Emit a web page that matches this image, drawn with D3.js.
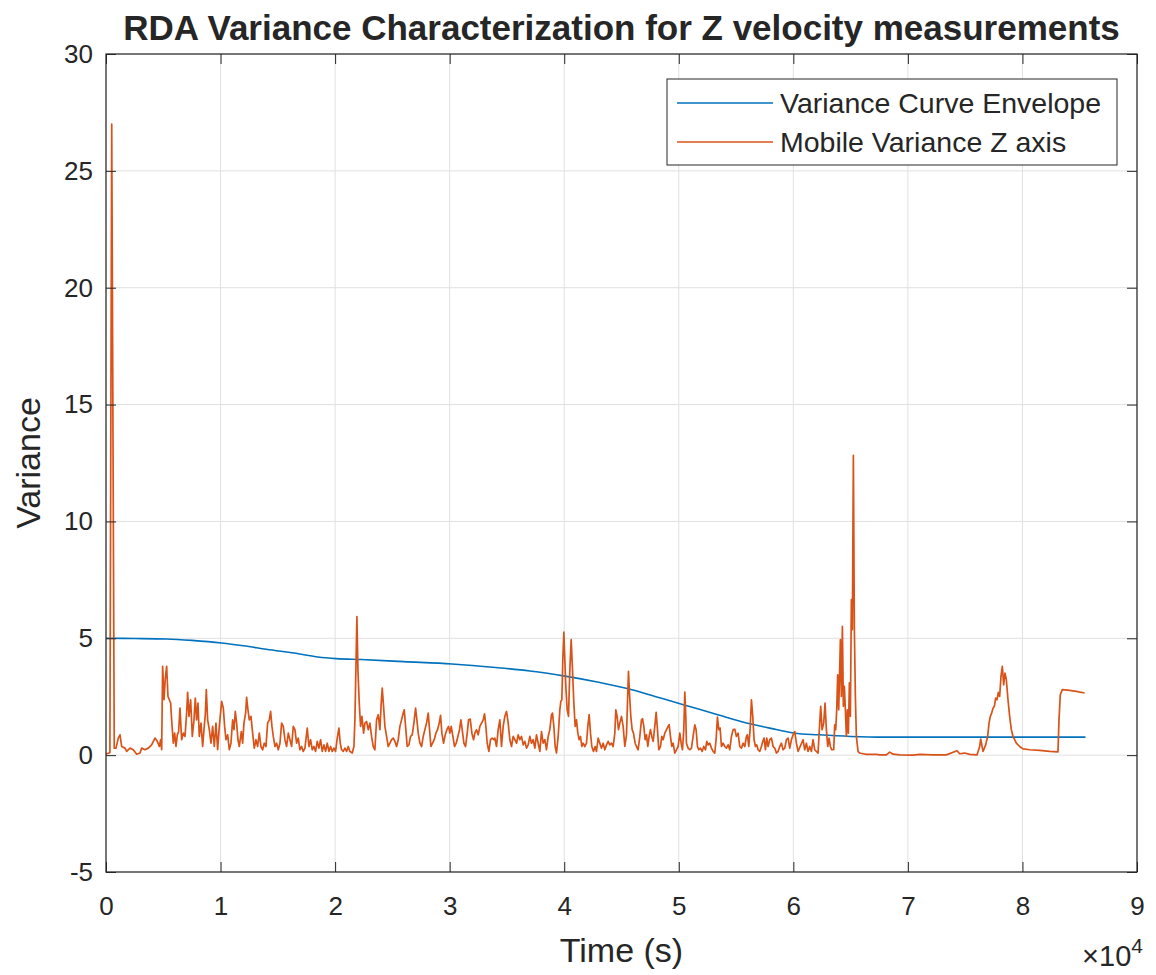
<!DOCTYPE html>
<html>
<head>
<meta charset="utf-8">
<script src="https://cdn.jsdelivr.net/npm/d3@7"></script>
<style>
  body { margin: 0; background: #fff; }
  svg text { font-family: "Liberation Sans", Arial, Helvetica, sans-serif; fill: #262626; }
</style>
</head>
<body>
<div id="chart"></div>
<script>
// x ticks (in units of 1e4 s) and y ticks
const xTicks = [0, 1, 2, 3, 4, 5, 6, 7, 8, 9];
const yTicks = [-5, 0, 5, 10, 15, 20, 25, 30];
const seriesNames = ["Variance Curve Envelope", "Mobile Variance Z axis"];

// blue envelope: [time (s), variance]
const envelope = [
  [0, 5.0], [2500, 4.99], [5300, 4.97], [7500, 4.91], [10100, 4.80], [12000, 4.68],
  [14000, 4.53], [16900, 4.33], [18500, 4.2], [20100, 4.13], [22300, 4.09], [26000, 4.0],
  [30200, 3.9], [34000, 3.75], [37000, 3.6], [40200, 3.37], [43000, 3.12], [45600, 2.84],
  [48000, 2.5], [50400, 2.16], [53400, 1.73], [56300, 1.33], [58500, 1.1], [60100, 0.94],
  [62200, 0.87], [65000, 0.80], [68000, 0.77], [85500, 0.77]
];

// orange mobile variance: [time (s), variance]
const mobileVar = [
  [0, 0.05], [340, 0.1], [500, 27.0], [720, 0.3],
  [873, 0.30], [1076, 0.73], [1222, 0.87], [1367, 0.37], [1658, 0.30], [1804, 0.16], [2094, 0.30], [2385, 0.23],
  [2676, 0.04], [2967, 0.09], [3113, 0.30], [3404, 0.23], [3694, 0.30], [3985, 0.44], [4276, 0.73], [4480, 0.59],
  [4654, 0.37], [4771, 0.66], [4858, 0.23], [4945, 3.80], [5062, 2.37], [5178, 3.30], [5294, 3.80], [5411, 2.51],
  [5527, 2.37], [5643, 2.23], [5731, 1.51], [5876, 0.51], [5993, 0.94], [6109, 0.37], [6225, 0.87], [6342, 1.01],
  [6458, 2.01], [6603, 0.66], [6749, 0.94], [6894, 0.80], [7040, 1.80], [7127, 2.69], [7243, 1.66], [7389, 2.37],
  [7534, 0.80], [7680, 1.51], [7796, 2.44], [7912, 1.51], [8029, 2.23], [8145, 0.80], [8291, 1.37], [8436, 0.37],
  [8552, 1.09], [8669, 1.73], [8756, 2.80], [8872, 1.51], [9018, 1.09], [9163, 0.51], [9309, 1.23], [9454, 0.37],
  [9600, 1.37], [9745, 0.23], [9891, 1.23], [10094, 2.30], [10240, 2.01], [10356, 1.23], [10472, 0.66], [10618, 0.87],
  [10763, 0.23], [10909, 0.51], [11054, 1.51], [11171, 1.09], [11287, 1.87], [11403, 1.37], [11520, 0.66], [11636, 0.37],
  [11811, 1.01], [11927, 0.51], [12043, 1.37], [12189, 1.80], [12276, 2.47], [12392, 1.94], [12509, 1.51], [12654, 1.66],
  [12800, 0.94], [12945, 0.30], [13091, 0.66], [13236, 0.37], [13381, 0.94], [13527, 0.37], [13672, 0.23], [13818, 0.51],
  [13963, 0.37], [14109, 1.37], [14254, 1.51], [14370, 1.87], [14487, 1.23], [14603, 0.80], [14749, 0.37], [14894, 0.51],
  [15040, 0.23], [15185, 0.51], [15330, 1.37], [15476, 1.23], [15621, 0.66], [15767, 0.37], [15912, 0.94], [16058, 0.66],
  [16203, 0.37], [16349, 1.23],
  [16492, 1.09], [16637, 0.51], [16783, 0.73], [16928, 0.23], [17074, 0.37], [17219, 0.16], [17365, 0.30], [17568, 1.16],
  [17714, 0.37], [17859, 0.66], [18005, 0.23], [18150, 0.37], [18296, 0.16], [18441, 0.59], [18586, 0.30], [18732, 0.66],
  [18877, 0.16], [19023, 0.44], [19168, 0.16], [19314, 0.51], [19459, 0.16], [19605, 0.37], [19750, 0.16], [19896, 0.30],
  [20041, 0.16], [20186, 0.73], [20332, 1.16], [20448, 0.51], [20565, 0.23], [20710, 0.16], [20856, 0.30], [21001, 0.16],
  [21146, 0.37], [21292, 0.16], [21495, 0.09], [21641, 0.37], [21728, 1.51], [21815, 3.66], [21903, 5.93], [21990, 3.66],
  [22106, 2.23], [22223, 1.23], [22339, 1.66], [22485, 0.94], [22601, 1.37], [22746, 1.44], [22892, 1.09], [23037, 1.37],
  [23183, 0.80], [23328, 0.37], [23474, 0.23], [23619, 1.51], [23765, 1.73], [23910, 1.09], [24026, 2.23], [24113, 2.87],
  [24230, 2.09], [24346, 1.23], [24492, 0.80], [24637, 0.37], [24783, 0.51], [24928, 0.66], [25074, 0.73], [25219, 0.59],
  [25364, 0.37], [25510, 0.66], [25655, 1.23], [25801, 1.51], [25946, 1.80], [26034, 1.94], [26150, 1.23], [26295, 0.37],
  [26441, 0.44], [26586, 0.80], [26732, 0.87], [26877, 1.37], [27023, 2.01], [27139, 1.51], [27255, 0.94], [27401, 0.51],
  [27546, 0.37], [27692, 0.80], [27837, 1.09], [27983, 1.37], [28128, 1.80], [28244, 1.09], [28361, 0.37], [28506, 0.51],
  [28652, 0.66], [28797, 0.94], [28943, 1.09], [29088, 1.37], [29204, 1.70], [29321, 0.94], [29466, 0.51], [29612, 0.87],
  [29757, 1.09], [29902, 1.23], [30019, 0.94], [30135, 1.23], [30281, 0.80], [30426, 0.37], [30572, 0.51], [30717, 0.80],
  [30862, 1.09], [30979, 1.51], [31095, 1.09], [31241, 0.51], [31386, 0.37], [31532, 0.94], [31648, 1.51], [31793, 1.54],
  [31939, 0.94], [32084, 0.66], [32201, 0.94], [32346, 1.09], [32492, 0.87], [32637, 1.23], [32782, 1.37], [32928, 1.51],
  [33044, 1.77], [33160, 1.23], [33277, 0.51], [33422, 0.16], [33568, 0.66], [33713, 0.73], [33859, 0.66],
  [33944, 0.73], [34090, 0.37], [34235, 1.09], [34381, 1.51], [34526, 0.37], [34672, 1.23], [34817, 1.66], [34963, 1.87],
  [35108, 1.37], [35253, 0.66], [35399, 0.37], [35544, 0.80], [35690, 0.66], [35835, 0.51], [35981, 0.87], [36126, 0.66],
  [36272, 0.80], [36417, 0.44], [36563, 0.59], [36708, 0.30], [36853, 0.44], [36999, 0.80], [37144, 0.51], [37290, 0.66],
  [37435, 0.30], [37581, 0.87], [37726, 0.51], [37872, 0.16], [38017, 1.01], [38162, 0.51], [38308, 0.66], [38453, 0.23],
  [38599, 0.80], [38744, 1.09], [38890, 1.73], [38977, 1.80], [39094, 1.23], [39210, 0.37], [39326, 0.09], [39472, 0.80],
  [39617, 1.94], [39705, 2.30], [39792, 2.37], [39879, 4.09], [39966, 5.26], [40053, 4.09], [40141, 2.94], [40257, 1.94],
  [40373, 1.66], [40490, 3.66], [40606, 4.94], [40722, 3.66], [40839, 2.23], [40955, 1.23], [41071, 1.51], [41188, 0.94],
  [41304, 0.66], [41420, 0.80], [41537, 0.37], [41653, 0.51], [41799, 0.37], [41944, 0.51], [42060, 1.23], [42177, 1.73],
  [42293, 0.94], [42410, 0.37], [42555, 0.16], [42700, 0.37], [42817, 0.16], [42962, 0.73], [43108, 0.51], [43253, 0.30],
  [43399, 0.51], [43544, 0.23], [43690, 0.44], [43835, 0.59], [43980, 0.44], [44126, 0.51], [44271, 0.37], [44417, 0.94],
  [44504, 1.94], [44620, 1.66], [44737, 1.09], [44853, 1.37], [44999, 1.66], [45144, 1.23], [45290, 0.37], [45435, 0.87],
  [45522, 2.23], [45609, 3.59], [45697, 2.66], [45813, 1.66], [45929, 1.09], [46046, 0.94], [46191, 0.51], [46308, 0.37],
  [46453, 0.23], [46599, 0.80], [46744, 1.51], [46831, 1.56], [46948, 1.23], [47064, 0.66], [47180, 0.87], [47297, 0.37],
  [47413, 0.80], [47529, 1.09], [47646, 0.80], [47762, 0.59], [47908, 1.23], [48024, 1.83], [48140, 1.09], [48257, 0.23],
  [48402, 0.37], [48518, 0.80], [48635, 0.66], [48780, 0.94], [48926, 1.09], [49071, 1.23], [49158, 1.31], [49275, 0.80],
  [49391, 0.37], [49508, 0.51], [49653, 0.09], [49798, 0.23], [49944, 0.37], [50089, 0.94], [50206, 0.51], [50322, 0.23],
  [50438, 1.09], [50526, 2.70], [50613, 1.66],
  [50669, 0.51], [50815, 0.30], [50960, 0.23], [51106, 0.30], [51251, 0.80], [51397, 1.30], [51513, 1.09], [51629, 0.37],
  [51746, 0.23], [51891, 0.30], [52037, 0.16], [52182, 0.37], [52328, 0.23], [52444, 0.59], [52560, 0.44], [52706, 0.51],
  [52851, 0.30], [52997, 0.16], [53142, 0.09], [53258, 0.66], [53375, 1.63], [53491, 1.09], [53608, 1.16], [53724, 0.37],
  [53869, 0.51], [54015, 0.37], [54160, 0.30], [54306, 0.44], [54451, 0.23], [54597, 0.80], [54742, 1.09], [54888, 1.11],
  [55033, 0.80], [55178, 0.94], [55324, 0.37], [55469, 0.30], [55615, 0.51], [55760, 0.37], [55906, 0.80], [55993, 0.87],
  [56109, 0.37], [56226, 1.09], [56342, 2.37], [56458, 1.66], [56575, 0.66], [56691, 0.37], [56807, 0.44], [56924, 0.23],
  [57069, 0.16], [57215, 0.37], [57331, 0.59], [57447, 0.73], [57564, 0.23], [57680, 0.73], [57797, 0.37], [57942, 0.66],
  [58087, 0.73], [58233, 0.37], [58378, 0.30], [58524, 0.09], [58669, 0.16], [58815, 0.37], [58960, 0.51], [59106, 0.23],
  [59251, 0.30], [59396, 0.66], [59542, 0.73], [59687, 0.30], [59833, 0.66], [59978, 0.87], [60124, 1.01], [60269, 0.51],
  [60415, 0.16],
  [60849, 0.66], [60994, 0.23], [61140, 0.51], [61285, 0.16], [61431, 0.37], [61576, 0.16], [61722, 0.66], [61867, 0.23],
  [62158, 0.09], [62303, 1.37], [62391, 2.09], [62507, 1.09], [62652, 1.37], [62769, 2.23], [62885, 1.09], [63002, 0.37],
  [63118, 0.73], [63234, 0.37], [63351, 0.23], [63525, 0.23], [63612, 1.30], [63700, 1.09], [63787, 1.94], [63874, 3.44],
  [63961, 1.94], [64107, 4.94], [64194, 2.51], [64282, 5.51], [64369, 2.09], [64456, 2.94], [64543, 1.94], [64631, 0.80],
  [64718, 1.94], [64805, 0.94], [64892, 3.09], [64980, 1.66], [65067, 6.66], [65154, 5.37], [65241, 12.83], [65329, 5.37],
  [65416, 2.51], [65503, 0.80], [65649, 0.16], [65794, 0.09], [66085, 0.06], [66376, 0.03], [67249, 0.03],
  [67539, 0.01], [68121, 0.01], [68412, 0.13], [68703, 0.04], [69284, 0.01], [70448, 0.0], [71030, 0.03], [72193, 0.01],
  [73357, 0.01], [74288, 0.19], [74521, 0.06], [74957, 0.09], [75393, 0.03], [76033, 0.01], [76266, 0.37], [76353, 0.69],
  [76557, 0.16], [76790, 0.44], [76964, 0.80], [77081, 1.37], [77197, 1.66], [77313, 1.80], [77430, 2.01], [77546, 2.09],
  [77662, 2.44], [77779, 2.37], [77895, 2.69], [78011, 2.51], [78128, 3.37], [78244, 3.80], [78360, 3.01], [78477, 3.51],
  [78593, 3.23], [78739, 2.37], [78884, 1.66], [79030, 1.09], [79175, 0.80], [79466, 0.51], [79757, 0.37], [80048, 0.27],
  [80630, 0.23], [81502, 0.20], [82375, 0.16], [83102, 0.14], [83190, 1.51], [83306, 2.59], [83481, 2.80], [84121, 2.77],
  [84702, 2.73], [85430, 2.66]
];

const colors = ["#0072BD", "#D95319"];

const width = 1156, height = 975;
const margin = { top: 54, right: 19, bottom: 103, left: 106 };
const plotW = width - margin.left - margin.right;
const plotH = height - margin.top - margin.bottom;

const svg = d3.select("#chart").append("svg")
    .attr("width", width)
    .attr("height", height);

const xScale = d3.scaleLinear().domain([0, 90000]).range([0, plotW]);
const yScale = d3.scaleLinear().domain([-5, 30]).range([plotH, 0]);

const g = svg.append("g").attr("transform", `translate(${margin.left},${margin.top})`);

// grid
g.append("g").selectAll("line")
    .data(xTicks)
    .join("line")
    .attr("x1", d => xScale(d * 1e4)).attr("x2", d => xScale(d * 1e4))
    .attr("y1", 0).attr("y2", plotH)
    .attr("stroke", "#e0e0e0").attr("stroke-width", 1);

g.append("g").selectAll("line")
    .data(yTicks)
    .join("line")
    .attr("x1", 0).attr("x2", plotW)
    .attr("y1", d => yScale(d)).attr("y2", d => yScale(d))
    .attr("stroke", "#e0e0e0").attr("stroke-width", 1);

// data lines
const line = d3.line()
    .x(d => xScale(d[0]))
    .y(d => yScale(d[1]));

g.append("path")
    .datum(envelope)
    .attr("d", line.curve(d3.curveMonotoneX))
    .attr("fill", "none")
    .attr("stroke", colors[0])
    .attr("stroke-width", 1.6);

g.append("path")
    .datum(mobileVar)
    .attr("d", d3.line().x(d => xScale(d[0])).y(d => yScale(d[1])))
    .attr("fill", "none")
    .attr("stroke", colors[1])
    .attr("stroke-width", 1.7)
    .attr("stroke-linejoin", "round");

// axes with inward ticks
const tickLen = 10;
const xAxis = d3.axisBottom(xScale)
    .tickValues(xTicks.map(d => d * 1e4))
    .tickFormat(d => d / 1e4)
    .tickSizeInner(-tickLen).tickSizeOuter(0).tickPadding(25);
const yAxis = d3.axisLeft(yScale)
    .tickValues(yTicks)
    .tickFormat(d => String(d))
    .tickSizeInner(-tickLen).tickSizeOuter(0).tickPadding(13);

const gx = g.append("g").attr("transform", `translate(0,${plotH})`).call(xAxis);
const gy = g.append("g").call(yAxis);
// mirrored ticks on top and right
g.append("g").call(d3.axisTop(xScale).tickValues(xTicks.map(d => d * 1e4))
    .tickSizeInner(-tickLen).tickSizeOuter(0).tickFormat(""));
g.append("g").attr("transform", `translate(${plotW},0)`)
    .call(d3.axisRight(yScale).tickValues(yTicks).tickSizeInner(-tickLen).tickSizeOuter(0).tickFormat(""));

g.selectAll(".domain").remove();
g.selectAll(".tick line").attr("stroke", "#262626").attr("stroke-width", 1);
gx.selectAll("text").style("font-size", "26px").attr("fill", "#262626");
gy.selectAll("text").style("font-size", "26px").attr("fill", "#262626");

// frame
g.append("rect")
    .attr("width", plotW).attr("height", plotH)
    .attr("fill", "none").attr("stroke", "#262626").attr("stroke-width", 1.2);

// exponent label
const expo = svg.append("text")
    .attr("x", margin.left + plotW + 6)
    .attr("y", height - 9)
    .attr("text-anchor", "end")
    .style("font-size", "29px");
expo.append("tspan").text("\u00d710");
expo.append("tspan").attr("dy", -13).style("font-size", "21px").text("4");

// axis labels
svg.append("text")
    .attr("x", margin.left + plotW / 2)
    .attr("y", height - 13)
    .attr("text-anchor", "middle")
    .style("font-size", "34px")
    .text("Time (s)");

svg.append("text")
    .attr("transform", `translate(40,${margin.top + plotH / 2}) rotate(-90)`)
    .attr("text-anchor", "middle")
    .style("font-size", "34px")
    .text("Variance");

// title
svg.append("text")
    .attr("x", margin.left + plotW / 2)
    .attr("y", 40)
    .attr("text-anchor", "middle")
    .style("font-size", "35px")
    .style("font-weight", "bold")
    .attr("fill", "#000")
    .text("RDA Variance Characterization for Z velocity measurements");

// legend
const legend = svg.append("g").attr("transform", "translate(667,79)");
legend.append("rect")
    .attr("width", 450).attr("height", 86)
    .attr("fill", "#fff").attr("stroke", "#262626").attr("stroke-width", 1);

seriesNames.forEach((name, i) => {
    const yy = 24 + i * 39;
    legend.append("line")
        .attr("x1", 10).attr("x2", 106)
        .attr("y1", yy).attr("y2", yy)
        .attr("stroke", colors[i]).attr("stroke-width", 1.5);
    legend.append("text")
        .attr("x", 113).attr("y", yy)
        .attr("dy", "0.35em")
        .style("font-size", "28.5px")
        .attr("fill", "#000")
        .text(name);
});
</script>
</body>
</html>
